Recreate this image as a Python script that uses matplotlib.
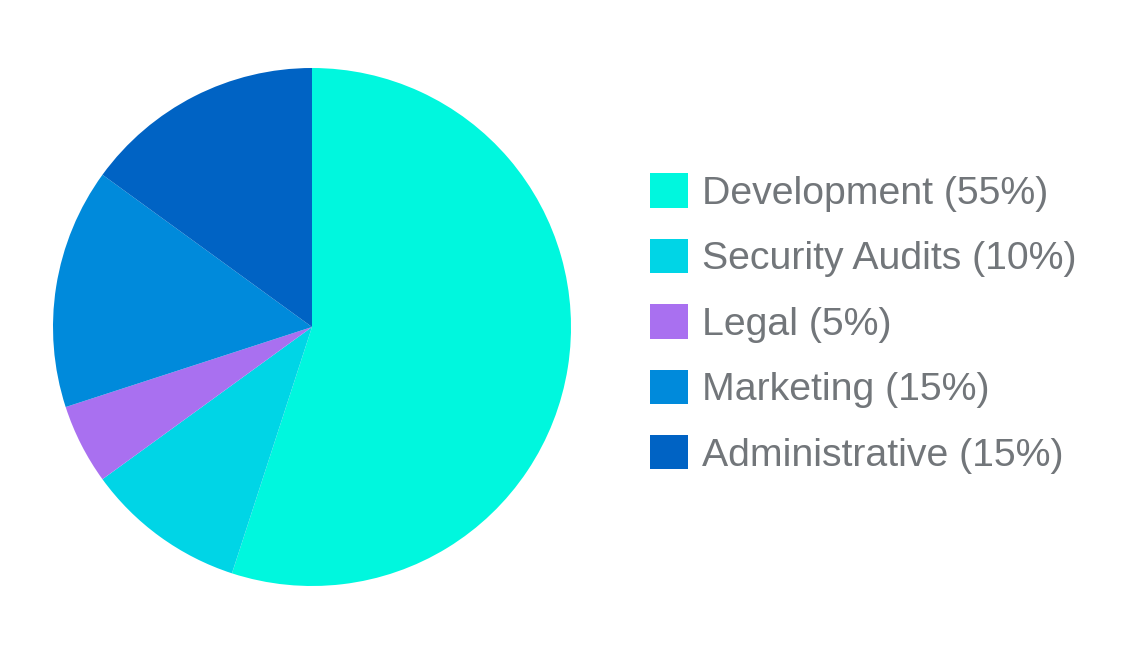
import matplotlib
matplotlib.use('Agg')
import matplotlib.pyplot as plt

# budget split
categories = ['Development', 'Security Audits', 'Legal', 'Marketing', 'Administrative']
shares = [55, 10, 5, 15, 15]
colors = ['#00F7DE', '#00D5E6', '#A970F0', '#008ADB', '#0063C4']

W, H = 1145, 648
fig = plt.figure(figsize=(W / 100, H / 100), dpi=100)
plt.rcParams['font.family'] = ['Liberation Sans', 'DejaVu Sans']

# pie box: center ~ (312, 327) px, radius ~259 px
r = 259
cx, cy = 312, 327
ax = fig.add_axes([(cx - r) / W, (H - cy - r) / H, 2 * r / W, 2 * r / H])
wedges, _ = ax.pie(shares, colors=colors, startangle=90, counterclock=False,
                   radius=1.0, wedgeprops=dict(linewidth=0))
ax.set_xlim(-1, 1)
ax.set_ylim(-1, 1)
ax.set_aspect('equal')
ax.axis('off')

labels = [f'{c} ({s}%)' for c, s in zip(categories, shares)]
leg = fig.legend(wedges, labels, loc='center left',
                 bbox_to_anchor=(650 / W, (H - 323.5) / H),
                 frameon=False, fontsize=28.3, labelcolor='#72767a',
                 handlelength=0.97, handleheight=0.97, handletextpad=0.36,
                 labelspacing=0.68, borderpad=0, borderaxespad=0)
for h in leg.legend_handles:
    h.set_edgecolor('none')

fig.savefig('out.png', dpi=100, facecolor='white')
